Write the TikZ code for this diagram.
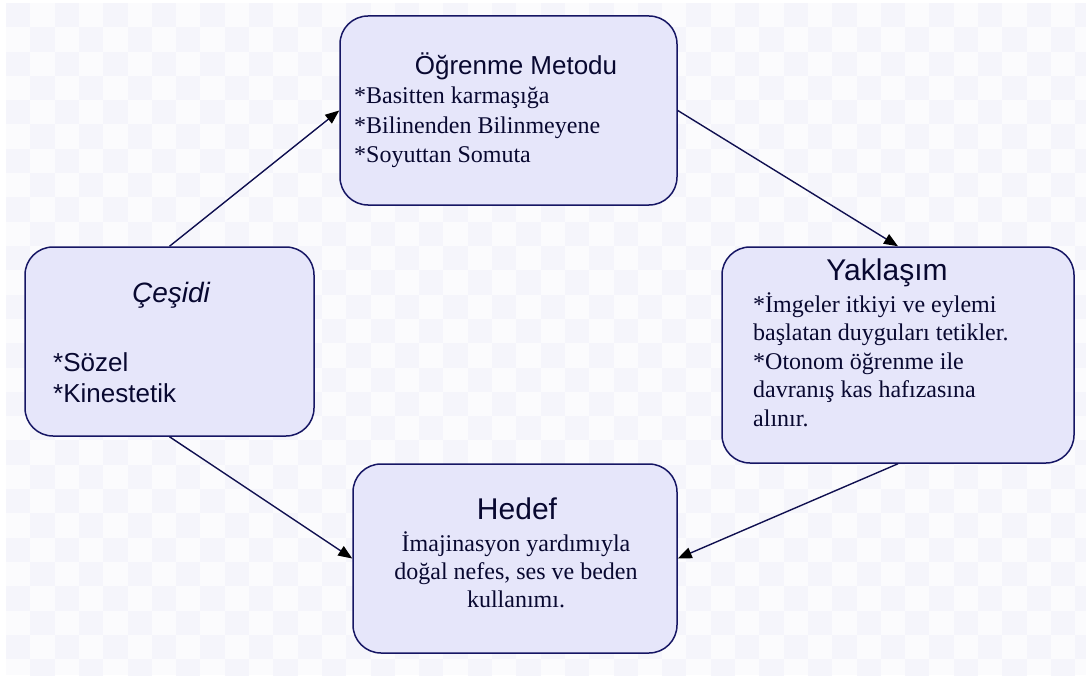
\documentclass[tikz,border=0pt]{standalone}
\usepackage{fontspec}
\setmainfont{Liberation Serif}
\newfontfamily\sansf{Liberation Sans}
\usetikzlibrary{arrows.meta}
\definecolor{boxfill}{RGB}{230,230,250}
\definecolor{boxline}{RGB}{22,22,100}
\definecolor{txt}{RGB}{8,8,48}
\definecolor{arrline}{RGB}{16,16,80}
\definecolor{chkA}{RGB}{245,245,251}
\definecolor{chkB}{RGB}{251,251,253}
\tikzset{
  box/.style={draw=boxline, fill=boxfill, line width=1.5pt, rounded corners=28pt, inner sep=0pt},
  conn/.style={draw=arrline, line width=1.4pt, -{Triangle[length=14pt,width=11pt,color=black]}},
  ttl/.style={anchor=base, inner sep=0pt, text=txt, font=\sansf\fontsize{30}{34}\selectfont},
  bodyl/.style={anchor=base west, inner sep=0pt, text=txt, font=\fontsize{24}{29}\selectfont},
  bodyc/.style={anchor=base, inner sep=0pt, text=txt, font=\fontsize{24}{29}\selectfont},
  sbody/.style={anchor=base west, inner sep=0pt, text=txt, font=\sansf\fontsize{26}{31}\selectfont}
}
\begin{document}
\begin{tikzpicture}[x=1pt,y=-1pt]
\useasboundingbox (0,0) rectangle (1086,679);
\fill[white] (0,0) rectangle (1086,679);
\begin{scope}
\clip (6,3) rectangle (1086,675);
\fill[chkB] (6,3) rectangle (1086,675);
\foreach \i in {0,...,44}{
  \foreach \j in {0,...,27}{
    \pgfmathtruncatemacro\chkm{mod(\i+\j,2)}
    \ifnum\chkm=0
      \fill[chkA] ({6+24.3*\i},{3+24.3*\j}) rectangle ({6+24.3*(\i+1)},{3+24.3*(\j+1)});
    \fi
  }
}
\end{scope}
% boxes
\node[box, minimum width=337pt, minimum height=189pt] (om) at (508.5,110.5) {};
\node[box, minimum width=352pt, minimum height=216pt] (yak) at (898,355) {};
\node[box, minimum width=324pt, minimum height=189pt] (hed) at (515,558.5) {};
\node[box, minimum width=289pt, minimum height=189pt] (ces) at (169.5,341.5) {};
% connectors
\draw[conn] (ces.north) -- (om.west);
\draw[conn] (om.east) -- (yak.north);
\draw[conn] (yak.south) -- (hed.east);
\draw[conn] (ces.south) -- (hed.west);
% Öğrenme Metodu
\node[ttl, font=\sansf\fontsize{26}{30}\selectfont] (omt) at (516,75) {Öğrenme Metodu};
\node[bodyl] (om1) at (354,104) {*Basitten karmaşığa};
\node[bodyl] (om2) at (354,133.5) {*Bilinenden Bilinmeyene};
\node[bodyl] (om3) at (354,163) {*Soyuttan Somuta};
% Yaklaşım
\node[ttl] (yakt) at (887,280) {Yaklaşım};
\node[bodyl] (yak1) at (753,312) {*İmgeler itkiyi ve eylemi};
\node[bodyl] (yak2) at (753,340.5) {başlatan duyguları tetikler.};
\node[bodyl] (yak3) at (753,369) {*Otonom öğrenme ile};
\node[bodyl] (yak4) at (753,397.5) {davranış kas hafızasına};
\node[bodyl] (yak5) at (753,426) {alınır.};
% Hedef
\node[ttl] (hedt) at (517,519) {Hedef};
\node[bodyc] (hed1) at (516,551) {İmajinasyon yardımıyla};
\node[bodyc] (hed2) at (516,579) {doğal nefes, ses ve beden};
\node[bodyc] (hed3) at (516,607) {kullanımı.};
% Çeşidi
\node[ttl, font=\sansf\itshape\fontsize{28}{32}\selectfont] (cest) at (171,302) {Çeşidi};
\node[sbody] (ces1) at (53,371) {*Sözel};
\node[sbody] (ces2) at (53,402) {*Kinestetik};
\end{tikzpicture}
\end{document}
